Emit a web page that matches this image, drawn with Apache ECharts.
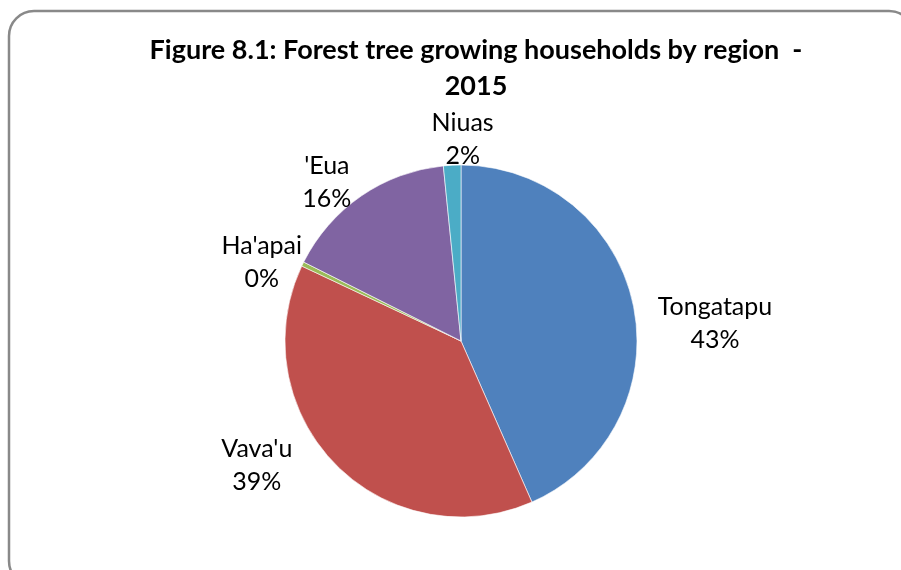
<!DOCTYPE html>
<html>
<head>
<meta charset="utf-8">
<script src="https://cdn.jsdelivr.net/npm/echarts@6/dist/echarts.min.js"></script>
<style>
  html, body { margin: 0; padding: 0; background: #fff; }
  #chart { width: 901px; height: 570px; }
</style>
</head>
<body>
<div id="chart"></div>
<script>
// 数据
const regions = ['Tongatapu', "Vava'u", "Ha'apai", "'Eua", 'Niuas']
const shares = [43.4, 38.6, 0.4, 16.0, 1.6]
const colors = ['#4F81BD', '#C0504D', '#9BBB59', '#8064A2', '#4BACC6']

// 标签微调 (dx, dy)
const labelNudge = [[57, 21], [-56, -5], [-10, -29], [20, -41], [26, -16]]

const total = shares.reduce((a, b) => a + b, 0)
const pieData = regions.map((name, i) => ({
  name: name,
  value: shares[i],
  itemStyle: { color: colors[i] }
}))

const chart = echarts.init(document.getElementById('chart'))
const option = {
  backgroundColor: '#fff',
  animation: false,
  title: {
    text: 'Figure 8.1: Forest tree growing households by region  -\n2015',
    left: 471,
    top: 27,
    textAlign: 'center',
    textStyle: {
      fontFamily: 'Lato',
      fontWeight: 'bold',
      fontSize: 27,
      lineHeight: 36,
      color: '#000'
    }
  },
  graphic: [
    {
      type: 'rect',
      shape: { x: 9, y: 11, width: 905, height: 575, r: 25 },
      style: { fill: 'none', stroke: '#898989', lineWidth: 2.5 },
      silent: true
    }
  ],
  series: [
    {
      type: 'pie',
      center: [461, 341],
      radius: 176,
      startAngle: 90,
      clockwise: true,
      data: pieData,
      itemStyle: { borderColor: '#fff', borderWidth: 0.6 },
      label: {
        show: true,
        position: 'outside',
        formatter: (p) => p.name + '\n' + Math.round(p.value / total * 100) + '%',
        fontFamily: 'Lato',
        fontSize: 25,
        lineHeight: 33,
        color: '#000'
      },
      labelLine: { show: false, length: 10, length2: 10 },
      labelLayout: (p) => ({
        align: 'center',
        dx: labelNudge[p.dataIndex][0],
        dy: labelNudge[p.dataIndex][1]
      })
    }
  ]
}
chart.setOption(option)
</script>
</body>
</html>
